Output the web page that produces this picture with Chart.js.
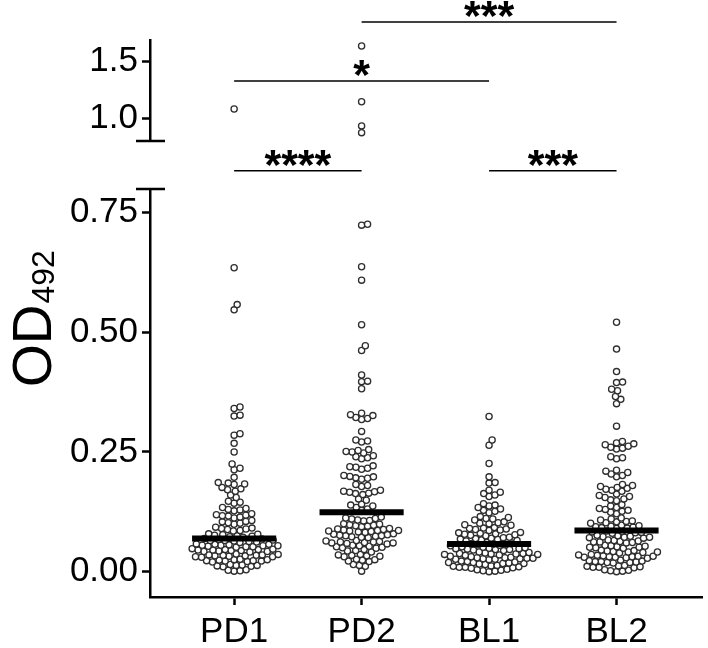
<!DOCTYPE html>
<html>
<head>
<meta charset="utf-8">
<script src="https://cdn.jsdelivr.net/npm/chart.js@4.4.1/dist/chart.umd.min.js"></script>
<style>
html, body { margin: 0; padding: 0; background: #fff; }
canvas { display: block; }
</style>
</head>
<body>
<canvas id="chart" width="708" height="648"></canvas>
<script>
var categories = ['PD1', 'PD2', 'BL1', 'BL2'];

var pd1 = [0.001,0.002,0.003,0.004,
  0.010,0.011,0.012,0.013,0.013,0.014,0.015,
  0.020,0.021,0.022,0.022,0.023,0.023,0.024,0.025,0.025,0.026,
  0.030,0.031,0.031,0.032,0.033,0.033,0.034,0.034,0.035,0.035,0.036,0.037,
  0.041,0.042,0.042,0.043,0.044,0.044,0.045,0.045,0.046,0.046,0.047,0.048,
  0.051,0.052,0.052,0.053,0.054,0.054,0.055,0.055,0.056,0.057,0.057,0.058,
  0.061,0.062,0.063,0.064,0.065,0.065,0.066,0.067,0.068,0.069,
  0.072,0.073,0.074,0.075,0.076,0.077,0.078,0.079,
  0.085,0.086,0.088,0.089,0.090,0.091,0.093,
  0.099,0.101,0.102,0.104,0.105,0.107,
  0.112,0.114,0.116,0.117,0.118,0.119,0.121,
  0.127,0.129,0.130,0.132,0.134,
  0.143,0.145,0.147,
  0.155,0.160,
  0.168,0.171,0.173,0.176,
  0.182,0.183,0.185,0.186,
  0.197,0.213,0.216,0.225,
  0.250,0.268,0.285,0.288,0.325,0.327,0.341,0.344,0.547,0.558,0.635,1.08];

var pd2 = [0.001,
  0.011,0.013,0.015,
  0.021,0.022,0.024,0.025,0.026,
  0.031,0.032,0.033,0.034,0.035,0.036,
  0.041,0.043,0.044,0.046,
  0.049,0.050,0.051,0.052,0.053,0.054,0.055,
  0.058,0.059,0.060,0.060,0.061,0.062,0.062,0.063,0.064,0.065,
  0.071,0.072,0.073,0.074,0.075,0.075,0.076,0.077,0.078,0.079,
  0.082,0.083,0.084,0.085,0.085,0.086,0.086,0.087,0.088,0.089,0.090,
  0.094,0.095,0.096,0.097,0.098,0.099,0.100,
  0.106,0.107,0.108,0.110,0.111,0.112,0.114,
  0.128,0.131,0.134,0.137,0.139,0.141,
  0.149,0.152,
  0.161,0.163,0.164,0.166,0.167,0.168,0.170,
  0.178,0.180,0.182,
  0.193,0.195,0.196,0.198,0.199,0.201,
  0.214,0.216,0.218,0.219,0.221,
  0.236,0.238,0.240,0.242,
  0.248,0.250,0.251,0.253,0.255,
  0.271,0.273,0.275,
  0.293,
  0.318,0.320,0.322,0.326,0.328,0.331,
  0.382,0.397,0.398,0.411,0.462,0.472,0.516,0.609,0.637,0.724,0.726,
  0.87,0.93,1.145,1.64];

var bl1 = [0.000,0.001,0.002,0.003,0.004,0.005,
  0.007,0.008,0.009,0.009,0.010,0.011,0.012,0.013,
  0.015,0.016,0.017,0.017,0.018,0.019,0.019,0.020,0.021,0.022,
  0.025,0.026,0.026,0.027,0.027,0.028,0.028,0.029,0.029,0.030,0.031,0.032,
  0.034,0.035,0.036,0.036,0.037,0.037,0.038,0.038,0.039,0.040,0.041,
  0.044,0.045,0.046,0.046,0.047,0.048,0.048,0.049,0.050,0.051,0.052,
  0.054,0.055,0.056,0.057,0.058,0.059,0.060,0.061,
  0.064,0.065,0.066,0.067,0.068,0.069,0.070,0.071,0.072,
  0.075,0.076,0.077,0.078,0.079,0.080,0.081,0.082,
  0.086,0.087,0.088,0.089,0.090,0.091,0.092,
  0.097,0.098,0.100,0.101,0.102,0.104,
  0.108,0.110,0.111,0.113,0.115,
  0.123,0.126,0.128,0.131,0.134,0.137,0.139,0.142,
  0.157,0.160,0.163,0.166,0.170,
  0.185,0.186,0.198,0.226,0.264,0.275,0.324];

var bl2 = [0.000,0.001,0.002,0.003,0.004,
  0.008,0.009,0.009,0.010,0.011,0.012,0.013,
  0.018,0.019,0.019,0.020,0.021,0.021,0.022,0.023,0.024,
  0.028,0.029,0.030,0.030,0.031,0.031,0.032,0.032,0.033,0.034,0.035,0.036,
  0.039,0.040,0.041,0.041,0.042,0.043,0.044,0.045,
  0.049,0.050,0.051,0.051,0.052,0.053,0.054,0.055,
  0.060,0.061,0.062,0.062,0.063,0.064,0.065,0.066,
  0.070,0.071,0.072,0.072,0.073,0.074,0.075,0.076,
  0.080,0.081,0.082,0.083,0.084,0.085,
  0.090,0.091,0.092,0.093,0.094,0.095,0.096,0.097,
  0.101,0.102,0.104,0.105,0.106,0.108,0.110,0.112,
  0.121,0.124,0.126,0.128,0.130,0.132,0.134,0.137,0.140,
  0.148,0.150,0.152,0.155,0.157,0.159,0.162,
  0.168,0.170,0.172,0.174,0.176,0.178,0.180,0.182,
  0.198,0.201,0.204,0.207,0.210,0.212,
  0.236,0.238,0.240,
  0.256,0.258,0.260,0.262,0.265,0.267,0.269,0.272,
  0.304,0.351,0.360,0.366,0.378,0.381,0.395,0.396,0.418,0.465,0.521];

var medians = [0.069, 0.124, 0.058, 0.086];
var lowTicks = [0, 0.25, 0.5, 0.75];
var highTicks = [1.0, 1.5];

// significance brackets
var bracketFrom = [0, 2, 0, 1];
var bracketTo = [1, 3, 2, 3];
var bracketLabels = ['****', '***', '*', '***'];
var bracketLevels = [0.532, 0.532, 1.329, 1.853];

var groups = [pd1, pd2, bl1, bl2];
var breakAt = 0.8;
var FONT = '"Liberation Sans", Arial, sans-serif';

var axisLine = { display: true, width: 2.5, color: '#000' };
var axisTicks = { display: true, drawOnChartArea: false, drawTicks: true, tickLength: 8, tickWidth: 2.5, tickColor: '#000' };

var decor = {
  id: 'decor',
  afterDraw: function (chart) {
    var ctx = chart.ctx;
    var xs = chart.scales.x, yt = chart.scales.yTop, yl = chart.scales.y;
    var ax = yl.right;
    ctx.save();
    ctx.strokeStyle = '#000';
    ctx.fillStyle = '#000';
    // break caps
    ctx.lineWidth = 2.5;
    ctx.beginPath();
    ctx.moveTo(ax - 14, yt.bottom); ctx.lineTo(ax + 15, yt.bottom);
    ctx.moveTo(ax - 14, yl.top); ctx.lineTo(ax + 15, yl.top);
    ctx.stroke();
    // brackets
    ctx.lineWidth = 1.5;
    ctx.font = 'bold 43px ' + FONT;
    ctx.textAlign = 'center';
    ctx.textBaseline = 'alphabetic';
    for (var i = 0; i < bracketLabels.length; i++) {
      var x1 = xs.getPixelForValue(bracketFrom[i]);
      var x2 = xs.getPixelForValue(bracketTo[i]);
      var yy = yt.getPixelForValue(bracketLevels[i]);
      ctx.beginPath();
      ctx.moveTo(x1, yy); ctx.lineTo(x2, yy);
      ctx.stroke();
      var m = ctx.measureText(bracketLabels[i]);
      var cy = yy - 13;
      ctx.fillText(bracketLabels[i], (x1 + x2) / 2, cy + (m.actualBoundingBoxAscent - m.actualBoundingBoxDescent) / 2);
    }
    // y title
    ctx.translate(51, 387);
    ctx.rotate(-Math.PI / 2);
    ctx.textAlign = 'left';
    ctx.font = '55px ' + FONT;
    ctx.fillText('OD', 0, 0);
    var w = ctx.measureText('OD').width;
    ctx.font = '32px ' + FONT;
    ctx.fillText('492', w + 1, 3);
    ctx.restore();
  }
};

var config = {
  type: 'scatter',
  data: { datasets: [] },
  options: {
    responsive: false,
    devicePixelRatio: 1,
    animation: false,
    layout: { padding: { left: 0, right: 0, top: 40, bottom: 0 } },
    plugins: { legend: { display: false }, tooltip: { enabled: false } },
    scales: {
      x: {
        type: 'linear', min: -0.66, max: 3.676,
        afterBuildTicks: function (s) { s.ticks = categories.map(function (c, i) { return { value: i }; }); },
        afterFit: function (s) { s.height = 51; },
        ticks: { color: '#000', padding: 6, font: { family: FONT, size: 35 },
          callback: function (v) { return categories[v]; } },
        grid: axisTicks, border: axisLine
      },
      // stacked left axes: the last one listed sits on top
      y: {
        type: 'linear', position: 'left', stack: 'ys', stackWeight: 408,
        min: -0.053, max: 0.7995,
        afterBuildTicks: function (s) { s.ticks = lowTicks.map(function (v) { return { value: v }; }); },
        afterFit: function (s) { s.width = 150; },
        ticks: { color: '#000', padding: 4, font: { family: FONT, size: 35 },
          callback: function (v) { return v.toFixed(2); } },
        grid: axisTicks, border: axisLine
      },
      yGap: {
        type: 'linear', position: 'left', stack: 'ys', stackWeight: 48,
        min: 0, max: 1,
        afterFit: function (s) { s.width = 150; },
        ticks: { display: false }, grid: { display: false }, border: { display: false }
      },
      yTop: {
        type: 'linear', position: 'left', stack: 'ys', stackWeight: 101,
        min: 0.796, max: 1.693,
        afterBuildTicks: function (s) { s.ticks = highTicks.map(function (v) { return { value: v }; }); },
        afterFit: function (s) { s.width = 150; },
        ticks: { color: '#000', padding: 4, font: { family: FONT, size: 35 },
          callback: function (v) { return v.toFixed(1); } },
        grid: axisTicks, border: axisLine
      }
    }
  },
  plugins: [decor]
};

var chart = new Chart(document.getElementById('chart').getContext('2d'), config);

function swarmOffsets(values, scale, diam) {
  var order = values.map(function (v, i) { return i; }).sort(function (a, b) { return values[a] - values[b]; });
  var placed = [], out = [];
  order.forEach(function (i) {
    var py = scale.getPixelForValue(values[i]);
    var cands = [0];
    placed.forEach(function (p) {
      var dy = py - p.y;
      if (Math.abs(dy) < diam) {
        var dx = Math.sqrt(diam * diam - dy * dy);
        cands.push(p.x + dx, p.x - dx);
      }
    });
    cands.sort(function (a, b) { return Math.abs(a) - Math.abs(b); });
    var best = 0;
    for (var k = 0; k < cands.length; k++) {
      var ok = true;
      for (var j = 0; j < placed.length; j++) {
        var ddx = cands[k] - placed[j].x, ddy = py - placed[j].y;
        if (ddx * ddx + ddy * ddy < diam * diam - 0.01) { ok = false; break; }
      }
      if (ok) { best = cands[k]; break; }
    }
    placed.push({ x: best, y: py });
    out[i] = best;
  });
  return out;
}

var pxPerX = chart.scales.x.getPixelForValue(1) - chart.scales.x.getPixelForValue(0);
var lowPts = [], highPts = [];
groups.forEach(function (vals, gi) {
  var lo = vals.filter(function (v) { return v <= breakAt; });
  var hi = vals.filter(function (v) { return v > breakAt; });
  var offLo = swarmOffsets(lo, chart.scales.y, 6.1);
  var offHi = swarmOffsets(hi, chart.scales.yTop, 6.1);
  lo.forEach(function (v, i) { lowPts.push({ x: gi + offLo[i] / pxPerX, y: v }); });
  hi.forEach(function (v, i) { highPts.push({ x: gi + offHi[i] / pxPerX, y: v }); });
});

var pointStyle = { pointRadius: 3.1, pointBorderWidth: 1.3, pointBorderColor: '#2e2e2e', pointBackgroundColor: '#fff', showLine: false, clip: false, order: 2 };
chart.data.datasets.push(Object.assign({ label: 'low', data: lowPts, yAxisID: 'y' }, pointStyle));
chart.data.datasets.push(Object.assign({ label: 'high', data: highPts, yAxisID: 'yTop' }, pointStyle));
medians.forEach(function (m, gi) {
  chart.data.datasets.push({
    label: 'median ' + categories[gi], yAxisID: 'y', showLine: true, order: 0,
    data: [{ x: gi - 0.33, y: m }, { x: gi + 0.33, y: m }],
    borderColor: '#000', borderWidth: 6, pointRadius: 0, borderCapStyle: 'butt', clip: false
  });
});
chart.update();
</script>
</body>
</html>
